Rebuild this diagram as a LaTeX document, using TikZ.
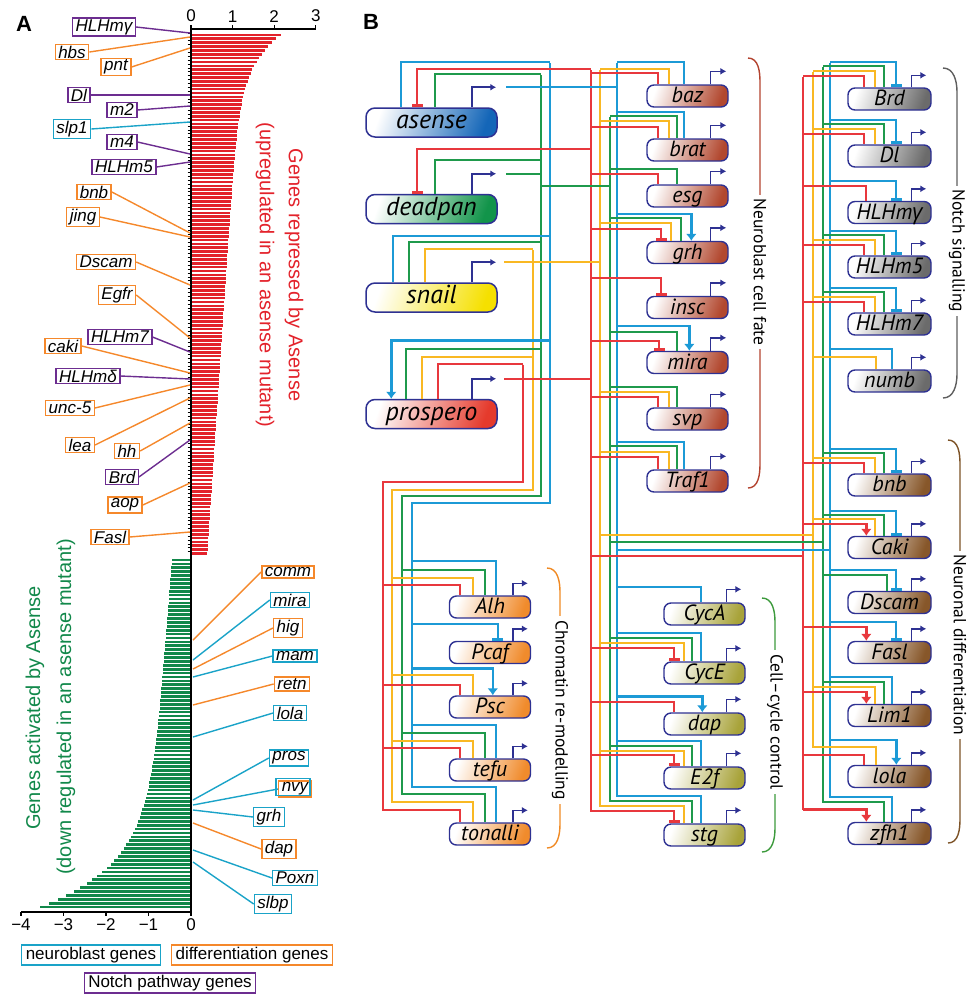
\documentclass[tikz,border=0pt]{standalone}
\usepackage{fontspec}
\setmainfont{Liberation Sans}
\newfontfamily\myr{PT Sans}
\newfontfamily\grk{Open Sans}
\usetikzlibrary{arrows.meta,positioning}

\definecolor{wred}{HTML}{E8383D}
\definecolor{wyel}{HTML}{F9B823}
\definecolor{wgrn}{HTML}{1F9A4C}
\definecolor{wblu}{HTML}{1C9AD6}
\definecolor{navy}{HTML}{2E3192}
\definecolor{nbc}{HTML}{1AA3C8}
\definecolor{dfc}{HTML}{F5882B}
\definecolor{ntc}{HTML}{6C2D90}
\definecolor{barred}{HTML}{E3222B}
\definecolor{bargrn}{HTML}{11884A}
\definecolor{fase}{HTML}{1466B8}
\definecolor{fdpn}{HTML}{12944A}
\definecolor{fsna}{HTML}{F5E000}
\definecolor{fpro}{HTML}{E53A2C}
\definecolor{ffate}{HTML}{B2482F}
\definecolor{fnotch}{HTML}{6B6B6B}
\definecolor{fneur}{HTML}{87572A}
\definecolor{fchrom}{HTML}{F08B2C}
\definecolor{fcyc}{HTML}{A8A33A}
\definecolor{brkfate}{HTML}{B3432F}
\definecolor{brknotch}{HTML}{5E5E5E}
\definecolor{brkneur}{HTML}{7D5327}
\definecolor{brkchrom}{HTML}{F08A24}
\definecolor{brkcyc}{HTML}{3C9A3C}

% input wire: [tip]{target}{wire}{bus}{dx}{rise}
\newcommand{\feed}[6][bind]{%
  \path ([xshift=#5pt]#2.north west) coordinate (ft) ++(0,-#6) coordinate (kn);
  \draw[#3,line width=2pt,#1] (#4 |- kn) -- (kn) -- (ft);}
% promoter arrow: {target}{dx}{rise}{length}
\newcommand{\tss}[4]{%
  \draw[prom] ([xshift=#2pt]#1.north west) -- ++(0,-#3) -- ++(#4,0) coordinate (#1-on);}

\begin{document}
\begin{tikzpicture}[x=1pt, y=-1pt,
    wr/.style={draw=wred, line width=2pt},
    wy/.style={draw=wyel, line width=2pt},
    wg/.style={draw=wgrn, line width=2pt},
    wb/.style={draw=wblu, line width=2pt},
    bind/.style={},
    act/.style={line width=2.6pt, -{Latex[length=7pt,width=11pt]}},
    rep/.style={-{Bar[width=11pt,line width=3pt]}},
    prom/.style={draw=navy, line width=1.6pt, -{Latex[length=6pt,width=7pt]}},
    tf/.style={draw=navy, line width=1.5pt, rounded corners=9pt,
        left color=white, right color=#1, shading angle=70,
        minimum width=131pt, minimum height=29pt,
        inner sep=0pt, text height=19pt, text depth=7pt,
        font=\myr\itshape\fontsize{26}{26}\selectfont},
    gene/.style={draw=navy, line width=1.4pt, rounded corners=7pt,
        left color=white, right color=#1, shading angle=70,
        minimum width=81pt, minimum height=22pt,
        inner sep=0pt, text height=17pt, text depth=4pt,
        font=\myr\itshape\fontsize{22}{22}\selectfont},
    glab/.style={draw=#1, line width=1.4pt, fill=white, inner xsep=3pt, inner ysep=1.5pt,
        font=\itshape\fontsize{17}{17}\selectfont},
    keybox/.style={draw=#1, line width=1.4pt, inner xsep=4pt, inner ysep=2pt,
        font=\fontsize{17}{17}\selectfont},
    title/.style={font=\fontsize{20}{20}\selectfont},
    brk/.style={line width=1.4pt},
    brlab/.style={fill=white, inner sep=4pt, rotate=-90,
        font=\myr\fontsize{17.5}{17.5}\selectfont}
]
\useasboundingbox (0,0) rectangle (970,994);

\node[font=\bfseries\fontsize{22}{22}\selectfont] (pA) at (24,24) {A};
\node[font=\bfseries\fontsize{22}{22}\selectfont] (pB) at (371,22) {B};

%%% Panel A: bar chart
\foreach \i in {0,...,134}{
  \pgfmathsetmacro\yy{33+3.87*\i}
  \pgfmathsetmacro\vv{1.22-0.0016*(\yy-33)+0.92*exp(-(\yy-33)/31)}
  \fill[barred] (191,\yy+0.6) rectangle (191+42*\vv,\yy+3.27);
  \draw[line width=0.5pt] (187.5,\yy) -- (191,\yy);
}
\foreach \i in {0,...,89}{
  \pgfmathsetmacro\yy{558+3.9*\i}
  \pgfmathsetmacro\vv{0.45+0.0018*(\yy-558)+2.6*exp((\yy-907)/42)}
  \fill[bargrn] (191-42.5*\vv,\yy+0.6) rectangle (191,\yy+3.3);
}
\draw[line width=1.4pt] (191,29) -- (191,912);
\draw[line width=1.2pt] (191,29) -- (316,29);
\foreach \v in {0,1,2,3}
  \draw[line width=1.2pt] (191+41.6*\v,29) -- ++(0,-4)
    node[above=-1pt, font=\fontsize{17}{17}\selectfont] (tu\v) {\v};
\draw[line width=1.2pt] (21,912) -- (191,912);
\foreach \v/\lab in {0/0,1/−1,2/−2,3/−3,4/−4}
  \draw[line width=1.2pt] (191-42.5*\v,912) -- ++(0,4)
    node[below=-1pt, font=\fontsize{17}{17}\selectfont] (td\v) {\lab};

\node[title, rotate=-90, text=barred] (tup)  at (294,275) {Genes repressed by Asense};
\node[title, rotate=-90, text=barred] (tup2) at (265,275) {(upregulated in an asense mutant)};
\node[title, rotate=90, text=bargrn]  (tdn)  at (35,708)  {Genes activated by Asense};
\node[title, rotate=90, text=bargrn]  (tdn2) at (66,707)  {(down regulated in an asense mutant)};

% gene labels, left of axis
\foreach \n/\lab/\x/\y/\col/\ay in {
    lHLHmg/HLHmγ/104/27/ntc/33, lhbs/hbs/72/52/dfc/37, lpnt/pnt/116/67/dfc/48,
    lDl/Dl/79/95/ntc/95, lm2/m2/122/110/ntc/106, lslp1/slp1/72/129/nbc/122,
    lm4/m4/122/142/ntc/154, lHLHm5/HLHm5/124/167/ntc/162, lbnb/bnb/94/192/dfc/233,
    ljing/jing/83/217/dfc/237, lDscam/Dscam/106/262/dfc/285, lEgfr/Egfr/117/295/dfc/338,
    lHLHm7/HLHm7/120/337/ntc/352, lcaki/caki/63/346/dfc/373, lHLHmd/HLHmδ/88/376/ntc/379,
    lunc5/unc-5/70/408/dfc/385, llea/lea/80/445/dfc/398, lhh/hh/127/451/dfc/423,
    lBrd/Brd/122/477/ntc/440, laop/aop/125/505/dfc/483, lFasl/Fasl/110/537/dfc/532}{
  \node[glab=\col] (\n) at (\x,\y) {\lab};
  \coordinate (\n-a) at (190,\ay);
  \draw[\col, line width=1.4pt] (\n.east) -- (\n-a);
}
% gene labels, right of axis
\foreach \n/\lab/\x/\y/\col/\lc/\ay in {
    rcomm/comm/288/572/dfc/dfc/640, rmira/mira/290/600/nbc/nbc/660,
    rhig/hig/288/628/dfc/dfc/669, rmam/mam/295/656/nbc/nbc/677,
    rretn/retn/292/684/dfc/dfc/705, rlola/lola/290/713/nbc/nbc/737,
    rpros/pros/289/758/nbc/nbc/800, rnvy/nvy/295/789/dfc/nbc/805,
    rgrh/grh/269/817/nbc/nbc/810, rdap/dap/279/849/dfc/dfc/823,
    rPoxn/Poxn/295/878/nbc/nbc/850, rslbp/slbp/273/904/nbc/nbc/862}{
  \node[glab=\col] (\n) at (\x,\y) {\lab};
  \coordinate (\n-a) at (193,\ay);
  \draw[\lc, line width=1.4pt] (\n.west) -- (\n-a);
}
\draw[nbc, line width=1.4pt] ([shift={(-2pt,2pt)}]rnvy.south west) rectangle ([shift={(-2pt,2pt)}]rnvy.north east);

\node[keybox=nbc] (keynb) at (91,955)  {neuroblast genes};
\node[keybox=dfc] (keydf) at (252,955) {differentiation genes};
\node[keybox=ntc] (keynt) at (170,983) {Notch pathway genes};

%%% Panel B: network
\node[tf=fase] (asense)   at (431.5,122.5) {asense};
\node[tf=fdpn] (deadpan)  at (431.5,209)   {deadpan};
\node[tf=fsna] (snail)    at (431.5,297.5) {snail};
\node[tf=fpro] (prospero) at (431.5,414)   {prospero};

\foreach \g/\yc in {baz/96, brat/150, esg/196, grh/252.5, insc/307.5, mira/362.5, svp/419, Traf1/481}
  \node[gene=ffate] (\g) at (687.5,\yc) {\g};
\foreach \g/\yc in {CycA/614, CycE/673, dap/724, E2f/778, stg/835}
  \node[gene=fcyc] (\g) at (704.5,\yc) {\g};
\foreach \g/\lab/\yc in {Brd/Brd/99, Dl/Dl/156, HLHmg/{HLHm{\grk γ}}/212.5, HLHm5/HLHm5/267, HLHm7/HLHm7/324, numb/numb/381}
  \node[gene=fnotch, minimum width=83pt] (\g) at (889.5,\yc) {\lab};
\foreach \g/\yc in {bnb/485, Caki/547.5, Dscam/602.5, Fasl/652.5, Lim1/715.5, lola/776.5, zfh1/833.5}
  \node[gene=fneur, minimum width=83pt] (\g) at (889.5,\yc) {\g};
\foreach \g/\yc in {Alh/607, Pcaf/652.5, Psc/707, tefu/770, tonalli/834}
  \node[gene=fchrom] (\g) at (490,\yc) {\g};

% promoters
\foreach \g in {asense, deadpan, snail, prospero} \tss{\g}{107}{20}{24};
\foreach \g in {baz, brat, esg, grh, insc, mira, svp, Traf1} \tss{\g}{64}{13}{16};
\foreach \g in {CycA, CycE, dap, E2f, stg} \tss{\g}{63}{13}{15};
\foreach \g in {Brd, Dl, HLHmg, HLHm5, HLHm7, numb, bnb, Caki, Dscam, Fasl, Lim1, lola, zfh1} \tss{\g}{64}{12}{15};
\foreach \g in {Alh, Pcaf, Psc, tefu, tonalli} \tss{\g}{64}{12}{15};

% buses
\coordinate (b1) at (550,63);  \coordinate (g1) at (541,75);
\coordinate (y1) at (533,250); \coordinate (r1) at (523,364.5);
\coordinate (b0) at (412,503); \coordinate (g0) at (402,496);
\coordinate (y0) at (392,490); \coordinate (r0) at (383,482);
\coordinate (b2) at (617,63);  \coordinate (g2) at (610,117);
\coordinate (y2) at (600,70);  \coordinate (r2) at (591,70);
\coordinate (b3) at (830,63);  \coordinate (g3) at (823,67);
\coordinate (y3) at (813,72);  \coordinate (r3) at (803,77);

\draw[wb] (b1) |- (b0) -- (b0 |- 0,788);
\draw[wg] (g1) |- (g0) -- (g0 |- 0,795);
\draw[wy] (y1) |- (y0) -- (y0 |- 0,803);
\draw[wr] (r1) |- (r0) -- (r0 |- 0,811);
\draw[wb] (b2) -- (b2 |- 0,797);
\draw[wg] (g2) -- (g2 |- 0,802);
\draw[wy] (y2) -- (y2 |- 0,807);
\draw[wr] (r2) -- (r2 |- 0,812);
\draw[wb] (b3) -- (b3 |- 0,798);
\draw[wg] (g3) -- (g3 |- 0,803);
\draw[wy] (y3) -- (y3 |- 0,748);
\draw[wr] (r3) -- (r3 |- 0,810);

% bus links
\draw[wg] (g1 |- 0,186) -- (g2 |- 0,186);
\draw[wy] (y2 |- 0,535) -- (y3 |- 0,535);
\draw[wg] (g2 |- 0,542) -- (g3 |- 0,542);
\draw[wb] (b2 |- 0,550) -- (b3 |- 0,550);
\draw[wr] (r2 |- 0,556) -- (r3 |- 0,556);

% products
\draw[wb] ([xshift=10pt]asense-on) -- (b2 |- asense-on);
\draw[wg] ([xshift=10pt]deadpan-on) -- (g1 |- deadpan-on);
\draw[wy] ([xshift=8pt]snail-on) -- (y2 |- snail-on);
\draw[wr] ([xshift=8pt]prospero-on) -- (r2 |- prospero-on);

% inputs
\foreach \g/\w/\b/\dx/\h/\tip in {
    asense/wb/b1/36/45/bind, asense/wr/r2/52/38/rep, asense/wg/g1/70/33/bind,
    deadpan/wr/r2/52/45/rep, deadpan/wg/g1/70/34/bind,
    snail/wb/b1/28/46/bind, snail/wg/g1/44/40/bind, snail/wy/y1/60/33/bind,
    prospero/wb/b1/26/58/act, prospero/wg/g1/41/50/bind, prospero/wy/y1/57/42/bind,
    prospero/wr/r1/73/35/bind}
  \feed[\tip]{\g}{\w}{\b}{\dx}{\h};

\foreach \g/\w/\b/\dx/\h/\tip in {
    baz/wb/b2/38/22/bind, baz/wy/y2/23/15/bind, baz/wr/r2/12/11/bind,
    brat/wb/b2/38/26/bind, brat/wg/g2/31/22/bind, brat/wy/y2/23/17/bind, brat/wr/r2/12/11/bind,
    esg/wg/g2/31/15/bind, esg/wr/r2/12/10/bind,
    grh/wb/b2/45/27/act, grh/wg/g2/35/23/bind, grh/wy/y2/25/18/bind, grh/wr/r2/15/12/rep,
    insc/wr/r2/15/18/rep,
    mira/wb/b2/43/25/act, mira/wg/g2/31/19/bind, mira/wr/r2/13/10/rep,
    svp/wg/g2/31/20/bind, svp/wy/y2/23/15/bind, svp/wr/r2/12/10/bind,
    Traf1/wb/b2/38/27/bind, Traf1/wg/g2/31/23/bind, Traf1/wy/y2/23/17/bind, Traf1/wr/r2/12/12/bind,
    CycA/wb/b2/38/15/bind,
    CycE/wb/b2/38/28/bind, CycE/wg/g2/29/23/bind, CycE/wy/y2/21/18/bind, CycE/wr/r2/11/13/rep,
    dap/wb/b2/39/16/act, dap/wr/r2/11/10/bind,
    E2f/wb/b2/38/25/bind, E2f/wg/g2/29/20/bind, E2f/wy/y2/21/15/bind, E2f/wr/r2/11/11/rep,
    stg/wb/b2/38/27/bind, stg/wg/g2/29/22/bind, stg/wy/y2/21/17/bind, stg/wr/r2/11/12/rep}
  \feed[\tip]{\g}{\w}{\b}{\dx}{\h};

\foreach \g/\w/\b/\dx/\h/\tip in {
    Brd/wb/b3/49/25/rep, Brd/wg/g3/37/21/bind, Brd/wy/y3/28/16/bind, Brd/wr/r3/17/11/bind,
    Dl/wb/b3/49/24/rep, Dl/wg/g3/37/20/bind, Dl/wy/y3/28/15/bind, Dl/wr/r3/17/10/bind,
    HLHmg/wb/b3/49/20/rep, HLHmg/wr/r3/19/15/bind,
    HLHm5/wb/b3/49/24/rep, HLHm5/wg/g3/37/20/bind, HLHm5/wy/y3/28/15/bind, HLHm5/wr/r3/17/10/bind,
    HLHm7/wb/b3/49/24/rep, HLHm7/wg/g3/37/20/bind, HLHm7/wy/y3/28/15/bind, HLHm7/wr/r3/17/10/bind,
    numb/wb/b3/45/20/bind, numb/wy/y3/29/12/bind,
    bnb/wb/b3/49/24/rep, bnb/wg/g3/37/20/bind, bnb/wy/y3/28/15/bind, bnb/wr/r3/17/10/bind,
    Caki/wb/b3/49/25/rep, Caki/wg/g3/37/21/bind, Caki/wy/y3/28/17/bind, Caki/wr/r3/19/12/act,
    Dscam/wb/b3/49/21/rep, Dscam/wg/g3/40/16/bind,
    Fasl/wb/b3/49/19/rep, Fasl/wr/r3/19/14/act,
    Lim1/wb/b3/45/27/bind, Lim1/wg/g3/37/22/bind, Lim1/wy/y3/28/17/bind, Lim1/wr/r3/19/12/act,
    lola/wb/b3/49/25/act, lola/wy/y3/29/17.5/bind, lola/wr/r3/17/10/bind,
    zfh1/wb/b3/45/24.5/bind, zfh1/wg/g3/37/19.5/bind, zfh1/wr/r3/19/12.5/act}
  \feed[\tip]{\g}{\w}{\b}{\dx}{\h};

\foreach \g/\w/\b/\dx/\h/\tip in {
    Alh/wb/b0/47/34/bind, Alh/wg/g0/36/25/bind, Alh/wy/y0/24/17/bind, Alh/wr/r0/11/10/bind,
    Pcaf/wb/b0/49/17/rep,
    Psc/wb/b0/44/27/act, Psc/wy/y0/24/20/bind, Psc/wr/r0/11/10/bind,
    tefu/wb/b0/47/33/bind, tefu/wg/g0/36/25/bind, tefu/wy/y0/24/17/bind, tefu/wr/r0/11/10/bind,
    tonalli/wb/b0/47/35/bind, tonalli/wg/g0/36/28/bind, tonalli/wy/y0/24/20/bind, tonalli/wr/r0/11/12/bind}
  \feed[\tip]{\g}{\w}{\b}{\dx}{\h};

% group brackets
\draw[brk, draw=brkfate] (748,58) to[out=0,in=90] (760,82) -- (760,464) to[out=-90,in=0] (748,488);
\node[brlab] (bfate) at (760,272) {Neuroblast cell fate};
\draw[brk, draw=brknotch] (943,68) to[out=0,in=90] (957,92) -- (957,374) to[out=-90,in=0] (943,398);
\node[brlab] (bnotch) at (957,251) {Notch signalling};
\draw[brk, draw=brkneur] (948,440) to[out=0,in=90] (960,464) -- (960,819) to[out=-90,in=0] (948,843);
\node[brlab] (bneur) at (960,645) {Neuronal differentiation};
\draw[brk, draw=brkchrom] (547,568) to[out=0,in=90] (560,592) -- (560,824) to[out=-90,in=0] (547,848);
\node[brlab] (bchrom) at (560,710) {Chromatin re-modelling};
\draw[brk, draw=brkcyc] (762,598) to[out=0,in=90] (775,622) -- (775,828) to[out=-90,in=0] (762,852);
\node[brlab] (bcyc) at (775,722) {Cell–cycle control};
\end{tikzpicture}
\end{document}
